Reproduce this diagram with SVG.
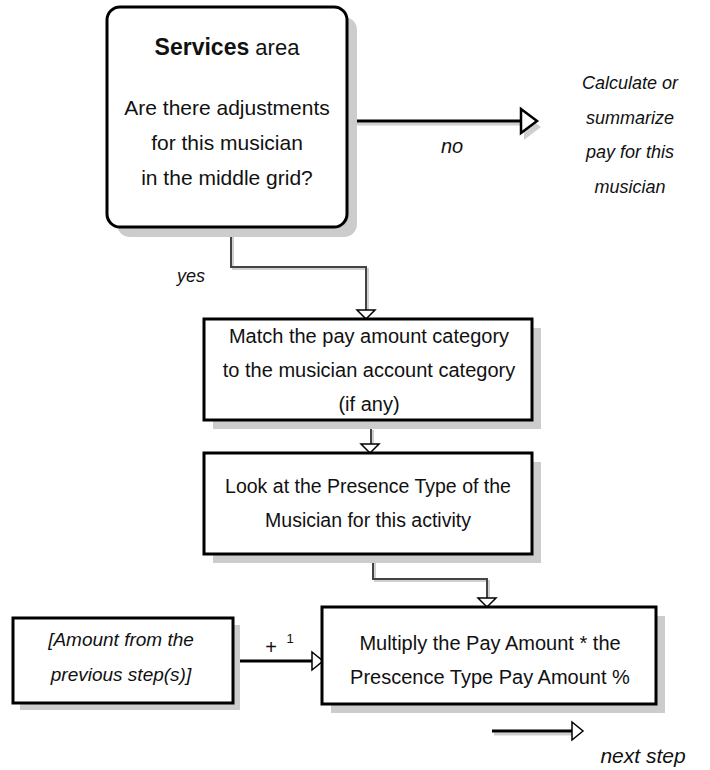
<svg xmlns="http://www.w3.org/2000/svg" width="710" height="770" viewBox="0 0 710 770">
  <style>
    .shadow { fill: #cccccc; stroke: none; }
    .box { fill: #ffffff; stroke: #000000; stroke-width: 3; }
    .t { font-family: "Liberation Sans", "DejaVu Sans", sans-serif; fill: #111111; text-anchor: middle; }
    .it { font-style: italic; }
    .b { font-weight: bold; }
    .s18 { font-size: 18px; }
    .s19 { font-size: 19px; }
    .s20 { font-size: 20px; }
    .s21 { font-size: 21px; }
    .link { fill: none; stroke: #444444; stroke-width: 2; }
    .linkShadow { fill: none; stroke: #d0d0d0; stroke-width: 2; }
    .arrowLine { fill: none; stroke: #000000; stroke-width: 3; }
    .arrowShadow { fill: none; stroke: #cfcfcf; stroke-width: 3; }
    .head { fill: #ffffff; stroke: #000000; stroke-width: 1.5; stroke-linejoin: miter; }
    .headBold { fill: #ffffff; stroke: #000000; stroke-width: 2.5; stroke-linejoin: miter; }
  </style>

  <!-- connectors -->
  <g id="connectors">
    <!-- decision "no" branch -->
    <line class="arrowShadow" x1="350" y1="124" x2="523" y2="124"/>
    <polygon points="524,114 541,127 524,140" fill="#cfcfcf"/>
    <line class="arrowLine" x1="347" y1="121" x2="521" y2="121"/>
    <polygon class="headBold" points="521,109 537,121 521,133"/>

    <!-- decision "yes" branch -->
    <polyline class="linkShadow" points="233,229 233,269 368,269 368,312"/>
    <polyline class="link" points="231,229 231,267 366,267 366,310"/>
    <polygon class="head" points="357,310 375,310 366,319"/>

    <!-- match → presence type -->
    <line class="linkShadow" x1="373" y1="430" x2="373" y2="446"/>
    <line class="link" x1="371" y1="421" x2="371" y2="445"/>
    <polygon class="head" points="361,444 379,444 370,453"/>

    <!-- presence type → multiply -->
    <polyline class="linkShadow" points="375,556 375,581 489,581 489,600"/>
    <polyline class="link" points="373,555 373,579 487,579 487,598"/>
    <polygon class="head" points="478,598 496,598 487,607"/>

    <!-- previous amount → multiply -->
    <line class="arrowLine" x1="233" y1="661" x2="313" y2="661"/>
    <polygon class="head" points="312,652 323,661 312,670"/>

    <!-- legend arrow -->
    <line class="arrowShadow" x1="494" y1="734" x2="574" y2="734"/>
    <line class="arrowLine" x1="492" y1="731" x2="573" y2="731"/>
    <polygon class="head" points="572,722 583,731 572,740"/>
  </g>

  <!-- decision node -->
  <g id="services-decision">
    <rect class="shadow" x="117" y="17" width="240" height="220" rx="13"/>
    <rect class="box" x="107" y="7" width="240" height="220" rx="13"/>
    <text class="t" x="227" y="55" style="font-size:22px"><tspan class="b" style="font-size:23px">Services</tspan> area</text>
    <text class="t s21" x="227" y="115">Are there adjustments</text>
    <text class="t s21" x="227" y="150">for this musician</text>
    <text class="t s21" x="227" y="185">in the middle grid?</text>
  </g>

  <g id="calculate-pay">
    <text class="t it s18" x="630" y="89">Calculate or</text>
    <text class="t it s18" x="630" y="124">summarize</text>
    <text class="t it s18" x="630" y="158">pay for this</text>
    <text class="t it s18" x="630" y="193">musician</text>
  </g>

  <g id="label-no">
    <text class="t it s20" x="452" y="153">no</text>
  </g>
  <g id="label-yes">
    <text class="t it s18" x="191" y="282">yes</text>
  </g>

  <g id="match-category">
    <rect class="shadow" x="213" y="328" width="328" height="101"/>
    <rect class="box" x="204" y="319" width="328" height="101"/>
    <text class="t s20" x="369" y="343">Match the pay amount category</text>
    <text class="t s20" x="369" y="377">to the musician account category</text>
    <text class="t s20" x="369" y="411">(if any)</text>
  </g>

  <g id="presence-type">
    <rect class="shadow" x="213" y="462" width="328" height="101"/>
    <rect class="box" x="204" y="453" width="328" height="101"/>
    <text class="t" x="368" y="493" style="font-size:19.5px">Look at the Presence Type of the</text>
    <text class="t" x="368" y="527" style="font-size:19.5px">Musician for this activity</text>
  </g>

  <g id="previous-amount">
    <rect class="shadow" x="20" y="625" width="220" height="85"/>
    <rect class="box" x="13" y="618" width="220" height="85"/>
    <text class="t it s19" x="121" y="646">[Amount from the</text>
    <text class="t it s19" x="121" y="681">previous step(s)]</text>
  </g>

  <g id="label-plus">
    <text class="t s20" x="271" y="654">+</text>
    <text class="t" x="290" y="643" style="font-size:13px">1</text>
  </g>

  <g id="multiply">
    <rect class="shadow" x="331" y="616" width="334" height="97"/>
    <rect class="box" x="322" y="607" width="334" height="97"/>
    <text class="t s20" x="490" y="650">Multiply the Pay Amount * the</text>
    <text class="t s20" x="490" y="684">Prescence Type Pay Amount %</text>
  </g>

  <g id="legend">
    <text class="t it s21" x="643" y="763">next step</text>
  </g>
</svg>
